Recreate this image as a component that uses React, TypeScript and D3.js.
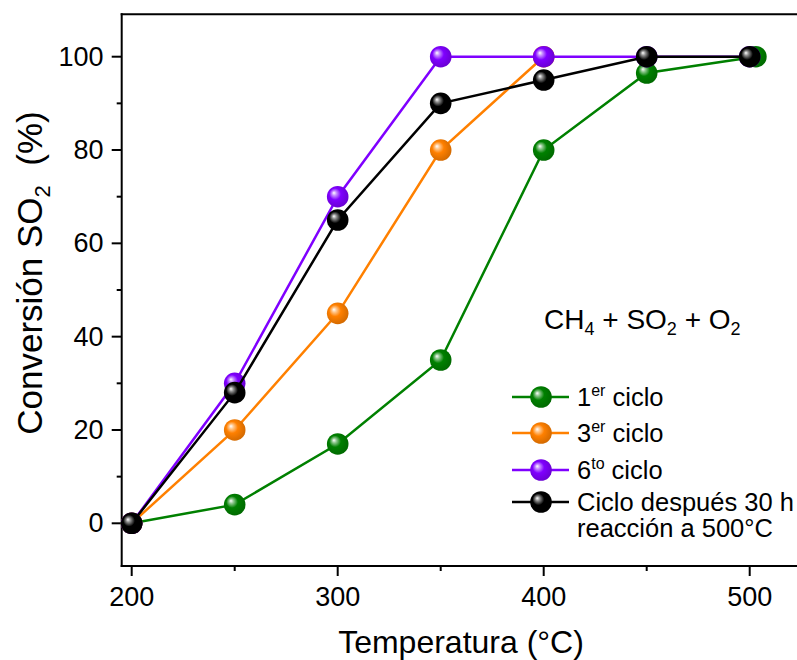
import React, { useEffect, useRef } from "react";
import * as d3 from "d3";

const temps = [200, 250, 300, 350, 400, 450, 500];
const temps1 = [200, 250, 300, 350, 400, 450, 503];
const ciclo1 = [0, 4, 17, 35, 80, 96.5, 100];
const ciclo3 = [0, 20, 45, 80, 100];
const ciclo6 = [0, 30, 70, 100, 100, 100, 100];
const cicloLargo = [0, 28, 65, 90, 95, 100, 100];

const xTicks = [200, 300, 400, 500];
const yTicks = [0, 20, 40, 60, 80, 100];

const seriesList = [
  { id: "g", name: "1", sup: "er", rest: " ciclo", color: "#008000", xs: temps1, ys: ciclo1 },
  { id: "o", name: "3", sup: "er", rest: " ciclo", color: "#FF8000", xs: temps, ys: ciclo3 },
  { id: "p", name: "6", sup: "to", rest: " ciclo", color: "#7F00FF", xs: temps, ys: ciclo6 },
  { id: "k", name: "Ciclo después 30 h", sup: "", rest: "", color: "#000000", xs: temps, ys: cicloLargo },
];

const W = 797;
const H = 660;
const FONT = "'Liberation Sans', Arial, sans-serif";

const App = () => {
  const ref = useRef<SVGSVGElement>(null);

  useEffect(() => {
    const svg = d3.select(ref.current);
    svg.selectAll("*").remove();

    const x = d3.scaleLinear().domain([200, 500]).range([131.7, 749.7]);
    const y = d3.scaleLinear().domain([0, 100]).range([523.3, 56.7]);
    const left = 121.7, right = 800, top = 14.3, bottom = 566;

    // gradients for the shiny balls
    const defs = svg.append("defs");
    seriesList.forEach(s => {
      const c = d3.color(s.color)!;
      const grad = defs.append("radialGradient")
        .attr("id", "ball-" + s.id)
        .attr("cx", "45%").attr("cy", "45%").attr("r", "60%")
        .attr("fx", "32%").attr("fy", "32%");
      grad.append("stop").attr("offset", "0%").attr("stop-color", "#ffffff");
      grad.append("stop").attr("offset", "18%").attr("stop-color", d3.interpolateRgb("#ffffff", s.color)(0.45));
      grad.append("stop").attr("offset", "45%").attr("stop-color", s.color);
      grad.append("stop").attr("offset", "100%").attr("stop-color", c.darker(0.6).toString());
    });

    // frame
    const axes = svg.append("g").attr("stroke", "#000").attr("stroke-width", 2).attr("fill", "none");
    axes.append("line").attr("x1", left).attr("x2", left).attr("y1", top - 1).attr("y2", bottom + 1);
    axes.append("line").attr("x1", left - 1).attr("x2", right).attr("y1", top).attr("y2", top);
    axes.append("line").attr("x1", left - 1).attr("x2", right).attr("y1", bottom).attr("y2", bottom);

    // x ticks
    d3.range(200, 501, 50).forEach(v => {
      const major = v % 100 === 0;
      axes.append("line").attr("x1", x(v)).attr("x2", x(v))
        .attr("y1", bottom).attr("y2", bottom + (major ? 10 : 5));
    });
    svg.append("g").selectAll("text").data(xTicks).enter().append("text")
      .attr("x", d => x(d)).attr("y", 606)
      .attr("text-anchor", "middle")
      .attr("font-family", FONT).attr("font-size", 27)
      .text(d => d);

    // y ticks
    d3.range(0, 101, 10).forEach(v => {
      const major = v % 20 === 0;
      axes.append("line").attr("x1", left).attr("x2", left - (major ? 10 : 5))
        .attr("y1", y(v)).attr("y2", y(v));
    });
    svg.append("g").selectAll("text").data(yTicks).enter().append("text")
      .attr("x", 103.5).attr("y", d => y(d) + 9)
      .attr("text-anchor", "end")
      .attr("font-family", FONT).attr("font-size", 27)
      .text(d => d);

    // axis titles
    svg.append("text")
      .attr("x", 461).attr("y", 653)
      .attr("text-anchor", "middle")
      .attr("font-family", FONT).attr("font-size", 32)
      .text("Temperatura (°C)");

    const yt = svg.append("text")
      .attr("transform", "translate(42,273) rotate(-90)")
      .attr("text-anchor", "middle")
      .attr("font-family", FONT).attr("font-size", 35);
    yt.append("tspan").text("Conversión SO");
    yt.append("tspan").attr("font-size", 22).attr("dy", 8).text("2");
    yt.append("tspan").attr("dy", -8).text("\u00a0 (%)");

    // series
    const line = d3.line<[number, number]>().x(d => x(d[0])).y(d => y(d[1]));
    seriesList.forEach(s => {
      const pts: [number, number][] = s.ys.map((v, i) => [s.xs[i], v]);
      const g = svg.append("g");
      g.append("path").datum(pts).attr("d", line)
        .attr("fill", "none").attr("stroke", s.color).attr("stroke-width", 2.5);
      g.selectAll("circle").data(pts).enter().append("circle")
        .attr("cx", d => x(d[0])).attr("cy", d => y(d[1])).attr("r", 10.8)
        .attr("fill", `url(#ball-${s.id})`);
    });

    // reaction label
    const rt = svg.append("text")
      .attr("x", 544).attr("y", 329)
      .attr("font-family", FONT).attr("font-size", 28);
    rt.append("tspan").text("CH");
    rt.append("tspan").attr("font-size", 18).attr("dy", 6).text("4");
    rt.append("tspan").attr("dy", -6).text(" + SO");
    rt.append("tspan").attr("font-size", 18).attr("dy", 6).text("2");
    rt.append("tspan").attr("dy", -6).text(" + O");
    rt.append("tspan").attr("font-size", 18).attr("dy", 6).text("2");

    // legend
    const rows = [397, 433, 470, 502];
    seriesList.forEach((s, i) => {
      const ry = rows[i];
      const lg = svg.append("g");
      lg.append("line").attr("x1", 512).attr("x2", 569).attr("y1", ry).attr("y2", ry)
        .attr("stroke", s.color).attr("stroke-width", 2.5);
      lg.append("circle").attr("cx", 541).attr("cy", ry).attr("r", 10.8)
        .attr("fill", `url(#ball-${s.id})`);
      const t = lg.append("text").attr("x", 577).attr("y", ry + 9)
        .attr("font-family", FONT).attr("font-size", 25.5);
      t.append("tspan").text(s.name);
      if (s.sup) {
        t.append("tspan").attr("font-size", 16).attr("dy", -10).text(s.sup);
        t.append("tspan").attr("dy", 10).text(s.rest);
      }
    });
    svg.append("text").attr("x", 577).attr("y", 537)
      .attr("font-family", FONT).attr("font-size", 25.5)
      .text("reacción a 500°C");
  }, []);

  return (
    <svg
      ref={ref}
      width={W}
      height={H}
      style={{ position: "absolute", left: 0, top: 0, background: "#fff" }}
    />
  );
};

export default App;
